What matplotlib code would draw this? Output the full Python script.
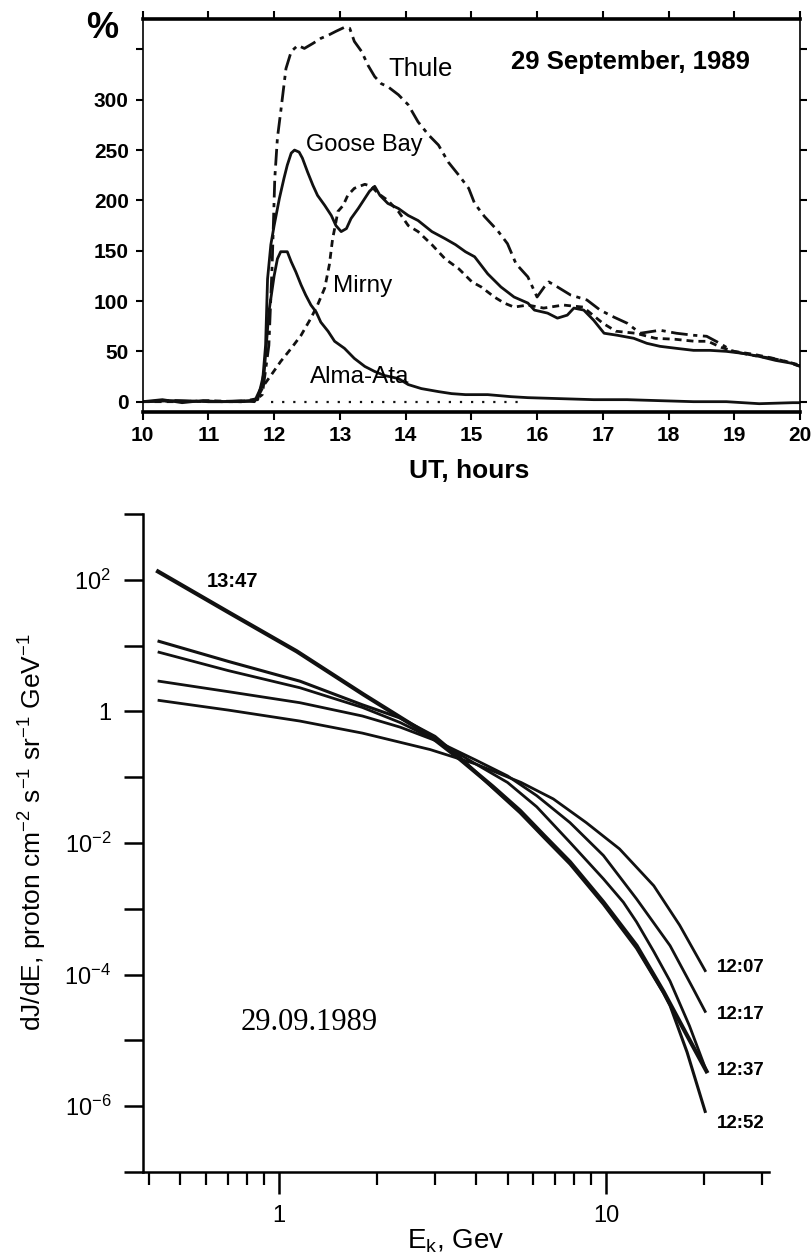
import matplotlib
matplotlib.use("Agg")
import matplotlib.pyplot as plt
from matplotlib.ticker import FixedLocator, NullFormatter, FixedFormatter

# ---- top panel: neutron monitor increase, 29 Sep 1989 ----
thule_t = [10.0, 10.5, 11.0, 11.5, 11.7, 11.82, 11.92, 11.97, 12.01, 12.05, 12.1, 12.18, 12.26,
           12.36, 12.46, 12.59, 12.71, 12.82, 12.94, 13.07, 13.15, 13.22, 13.33, 13.43, 13.53,
           13.63, 13.73, 13.89, 14.04, 14.19, 14.35, 14.5, 14.65, 14.81, 14.96, 15.05, 15.2,
           15.4, 15.55, 15.68, 15.86, 16.0, 16.11, 16.18, 16.31, 16.51, 16.76, 16.96, 17.17,
           17.37, 17.57, 17.87, 18.12, 18.38, 18.58, 18.78, 18.98, 19.28, 19.58, 19.79, 19.96, 20.0]
thule_v = [0, 1, 0, 0, 1, 7, 56, 136, 222, 262, 288, 331, 348,
           354, 351, 356, 361, 364, 368, 372, 371, 358, 348, 334, 323,
           316, 313, 305, 295, 278, 265, 255, 238, 225, 212, 197, 184,
           170, 157, 137, 124, 104, 114, 119, 114, 106, 101, 91, 84,
           78, 68, 71, 68, 66, 65, 58, 50, 46, 43, 40, 36, 36]

goose_t = [10.0, 10.3, 10.6, 10.9, 11.2, 11.5, 11.7, 11.82, 11.87, 11.9, 11.95, 12.0, 12.08,
           12.15, 12.2, 12.26, 12.31, 12.38, 12.43, 12.51, 12.59, 12.66, 12.77, 12.87, 12.94,
           13.02, 13.1, 13.17, 13.28, 13.38, 13.45, 13.53, 13.61, 13.73, 13.89, 14.04, 14.19,
           14.4, 14.6, 14.76, 14.91, 15.05, 15.25, 15.45, 15.65, 15.86, 15.96, 16.16, 16.31,
           16.46, 16.56, 16.71, 16.86, 17.02, 17.22, 17.47, 17.67, 17.87, 18.12, 18.38, 18.63,
           18.88, 19.13, 19.38, 19.63, 19.89, 20.0]
goose_v = [0, 2, -1, 1, 0, 1, 0, 17, 56, 122, 156, 175, 202,
           222, 235, 247, 250, 248, 242, 228, 215, 205, 195, 185, 175,
           169, 172, 182, 192, 202, 209, 214, 205, 197, 192, 185, 180,
           169, 162, 156, 149, 144, 127, 114, 104, 98, 91, 88, 83,
           86, 93, 91, 81, 68, 66, 63, 58, 55, 53, 51, 51,
           50, 48, 45, 41, 38, 35]

mirny_t = [10.0, 10.5, 11.0, 11.5, 11.74, 11.85, 11.95, 12.1, 12.26, 12.41, 12.56, 12.66, 12.77,
           12.84, 12.89, 12.93, 12.97, 13.05, 13.12, 13.22, 13.38, 13.48, 13.58, 13.73, 13.89,
           14.04, 14.19, 14.4, 14.6, 14.81, 15.01, 15.15, 15.35, 15.5, 15.65, 15.86, 16.1,
           16.4, 16.7, 17.0, 17.2, 17.5, 17.8, 18.1, 18.4, 18.6, 18.8, 19.0, 19.3, 19.6, 19.96]
mirny_v = [0, 0, 1, 0, 3, 17, 26, 40, 53, 66, 83, 96, 113,
           136, 162, 175, 189, 195, 205, 212, 216, 214, 207, 200, 189,
           175, 169, 156, 142, 132, 119, 114, 104, 98, 94, 96, 93,
           96, 94, 78, 70, 68, 63, 62, 60, 60, 54, 50, 47, 43, 37]

alma_t = [10.0, 10.5, 11.0, 11.5, 11.75, 11.85, 11.92, 12.0, 12.05, 12.1, 12.2, 12.26, 12.33,
          12.41, 12.48, 12.56, 12.64, 12.71, 12.82, 12.92, 13.07, 13.22, 13.38, 13.53, 13.68,
          13.89, 14.04, 14.24, 14.5, 14.7, 14.91, 15.25, 15.6, 15.86, 16.36, 16.86, 17.37,
          17.87, 18.38, 18.88, 19.38, 19.89, 20.0]
alma_v = [0, 1, 0, 0, 2, 30, 89, 125, 142, 149, 149, 139, 129,
          116, 106, 96, 89, 79, 70, 60, 53, 43, 35, 30, 26,
          23, 17, 13, 10, 8, 7, 7, 5, 4, 3, 2, 2,
          1, 0, 0, -2, -1, -1]

zero_t = [11.95, 15.75]
zero_v = [0, 0]

hour_ticks = list(range(10, 21))
pct_ticks = [0, 50, 100, 150, 200, 250, 300, 350]
pct_labels = ["0", "50", "100", "150", "200", "250", "300", ""]

# ---- bottom panel: proton spectra ----
e_1347 = [0.427, 0.708, 1.133, 1.81, 2.9, 3.58, 4.5, 5.46, 6.5, 7.76, 9.82, 12.4, 15.0, 17.5, 20.3]
j_1347 = [133.7, 31.26, 8.20, 1.82, 0.4227, 0.1875, 0.07244, 0.0309, 0.01259, 5.129e-3,
          1.259e-3, 2.754e-4, 5.495e-5, 1.318e-5, 3.388e-6]

e_1252 = [0.43, 0.7, 1.16, 1.8, 2.35, 3.0, 3.58, 4.5, 5.46, 6.5, 7.76, 9.82, 12.4, 15.0, 15.7, 17.7, 20.1]
j_1252 = [11.61, 5.754, 2.877, 1.259, 0.794, 0.417, 0.1995, 0.0692, 0.02884, 0.01175,
          4.786e-3, 1.175e-3, 2.512e-4, 5.248e-5, 3.388e-5, 6.607e-6, 8.318e-7]

e_1237 = [0.43, 0.7, 1.16, 1.8, 2.35, 3.0, 4.0, 5.0, 6.14, 7.76, 9.82, 11.3, 12.4, 14.0, 15.7, 18.0, 20.3]
j_1237 = [7.925, 4.169, 2.286, 1.148, 0.676, 0.3715, 0.1585, 0.0832, 0.03548, 0.01023,
          2.851e-3, 1.259e-3, 6.31e-4, 2.239e-4, 7.943e-5, 1.66e-5, 3.388e-6]

e_1217 = [0.43, 0.7, 1.16, 1.8, 2.35, 3.0, 4.0, 5.0, 6.14, 7.76, 9.82, 12.4, 15.7, 18.5, 20.1]
j_1217 = [2.877, 1.995, 1.355, 0.851, 0.5754, 0.3631, 0.182, 0.1047, 0.05248, 0.02042,
          6.457e-3, 1.413e-3, 2.754e-4, 6.026e-5, 2.754e-5]

e_1207 = [0.43, 0.7, 1.16, 1.8, 2.9, 4.0, 5.5, 6.9, 8.7, 11.0, 14.0, 16.8, 20.1]
j_1207 = [1.469, 1.047, 0.7129, 0.4677, 0.263, 0.1585, 0.0832, 0.04677, 0.02042, 8.128e-3,
          2.239e-3, 5.623e-4, 1.148e-4]

spec_major_x = [1, 10]
spec_minor_x = [0.4, 0.5, 0.6, 0.7, 0.8, 0.9, 2, 3, 4, 5, 6, 7, 8, 9, 20, 30]
spec_y_ticks = [1e-7, 1e-6, 1e-5, 1e-4, 1e-3, 1e-2, 1e-1, 1, 10, 100, 1000]
spec_y_labels = ["", "10$^{-6}$", "", "10$^{-4}$", "", "10$^{-2}$", "", "1", "", "10$^{2}$", ""]

plt.rcParams['font.family'] = ['Liberation Sans', 'DejaVu Sans']
plt.rcParams['mathtext.fontset'] = 'custom'
plt.rcParams['mathtext.rm'] = 'Liberation Sans'
plt.rcParams['mathtext.it'] = 'Liberation Sans:italic'
plt.rcParams['mathtext.bf'] = 'Liberation Sans:bold'

ink = '#111111'
fig = plt.figure(figsize=(8.12, 12.58), dpi=100)

# top panel
ax1 = fig.add_axes([0.1757, 0.6727, 0.8095, 0.3120])
ax1.plot(thule_t, thule_v, color=ink, lw=2.0, ls=(0, (6, 2, 1.5, 2)))
ax1.plot(goose_t, goose_v, color=ink, lw=2.0)
ax1.plot(mirny_t, mirny_v, color=ink, lw=2.0, ls=(0, (2.5, 1.8)))
ax1.plot(alma_t, alma_v, color=ink, lw=2.0)
ax1.plot(zero_t, zero_v, color=ink, lw=1.6, ls=(0, (1, 4)))
ax1.set_xlim(10, 20)
ax1.set_ylim(-10, 380)
ax1.set_xticks(hour_ticks)
ax1.set_yticks(pct_ticks)
ax1.set_yticklabels(pct_labels)
for s in ['top', 'bottom']:
    ax1.spines[s].set_linewidth(2.6)
for s in ['left', 'right']:
    ax1.spines[s].set_linewidth(1.2)
ax1.tick_params(axis='y', direction='out', length=5, width=1.5, left=True, right=True,
                labelsize=15, pad=5)
ax1.tick_params(axis='x', direction='out', length=6, width=1.5, top=True, bottom=True,
                labelsize=15, pad=4)
for lab in ax1.get_xticklabels() + ax1.get_yticklabels():
    lab.set_fontweight('bold')

ax1.text(13.74, 331, "Thule", fontsize=18.5, va='center', ha='left')
ax1.text(12.48, 255, "Goose Bay", fontsize=17, va='center', ha='left')
ax1.text(12.9, 115, "Mirny", fontsize=17.5, va='center', ha='left')
ax1.text(12.55, 25, "Alma-Ata", fontsize=17.5, va='center', ha='left')
ax1.text(15.6, 338, "29 September, 1989", fontsize=18.5, fontweight='bold', va='center', ha='left')
ax1.text(9.38, 371, "%", fontsize=26, fontweight='bold', va='center', ha='center', clip_on=False)
fig.text(0.578, 1 - 471 / 1258, "UT, hours", fontsize=19, fontweight='bold', ha='center', va='center')

# bottom panel
ax2 = fig.add_axes([0.1765, 0.0684, 0.7705, 0.5230])
ax2.set_xscale('log')
ax2.set_yscale('log')
ax2.plot(e_1207, j_1207, color=ink, lw=2.0)
ax2.plot(e_1217, j_1217, color=ink, lw=2.0)
ax2.plot(e_1237, j_1237, color=ink, lw=2.0)
ax2.plot(e_1252, j_1252, color=ink, lw=2.2)
ax2.plot(e_1347, j_1347, color=ink, lw=3.0)
ax2.set_xlim(0.385, 31.5)
ax2.set_ylim(1e-7, 1e3)
ax2.spines['top'].set_visible(False)
ax2.spines['right'].set_visible(False)
ax2.spines['left'].set_linewidth(1.8)
ax2.spines['bottom'].set_linewidth(1.8)

ax2.xaxis.set_major_locator(FixedLocator(spec_major_x))
ax2.xaxis.set_major_formatter(FixedFormatter(["1", "10"]))
ax2.xaxis.set_minor_locator(FixedLocator(spec_minor_x))
ax2.xaxis.set_minor_formatter(NullFormatter())
ax2.yaxis.set_major_locator(FixedLocator(spec_y_ticks))
ax2.yaxis.set_major_formatter(FixedFormatter(spec_y_labels))
ax2.yaxis.set_minor_locator(FixedLocator([]))
ax2.tick_params(axis='x', which='major', direction='out', length=16, width=1.8, labelsize=17, pad=8)
ax2.tick_params(axis='x', which='minor', direction='out', length=9, width=1.6)
ax2.tick_params(axis='y', which='major', direction='out', length=14, width=1.8, labelsize=17, pad=9)

ax2.text(0.602, 93, "13:47", fontsize=14.5, fontweight='bold', va='center', ha='left')
ax2.text(21.9, 1.28e-4, "12:07", fontsize=13.5, fontweight='bold', va='center', ha='left')
ax2.text(21.9, 2.48e-5, "12:17", fontsize=13.5, fontweight='bold', va='center', ha='left')
ax2.text(21.9, 3.45e-6, "12:37", fontsize=13.5, fontweight='bold', va='center', ha='left')
ax2.text(21.9, 5.5e-7, "12:52", fontsize=13.5, fontweight='bold', va='center', ha='left')
ax2.text(1.235, 1.87e-5, "29.09.1989", fontsize=22, family='Liberation Serif', va='center', ha='center')

fig.text(0.041, 1 - 832 / 1258, "dJ/dE, proton cm$^{-2}$ s$^{-1}$ sr$^{-1}$ GeV$^{-1}$",
         fontsize=19, rotation=90, ha='center', va='center')
fig.text(0.5615, 1 - 1241 / 1258, "E$_{\\rm k}$, Gev", fontsize=20, ha='center', va='center')

fig.savefig("out.png", dpi=100)
